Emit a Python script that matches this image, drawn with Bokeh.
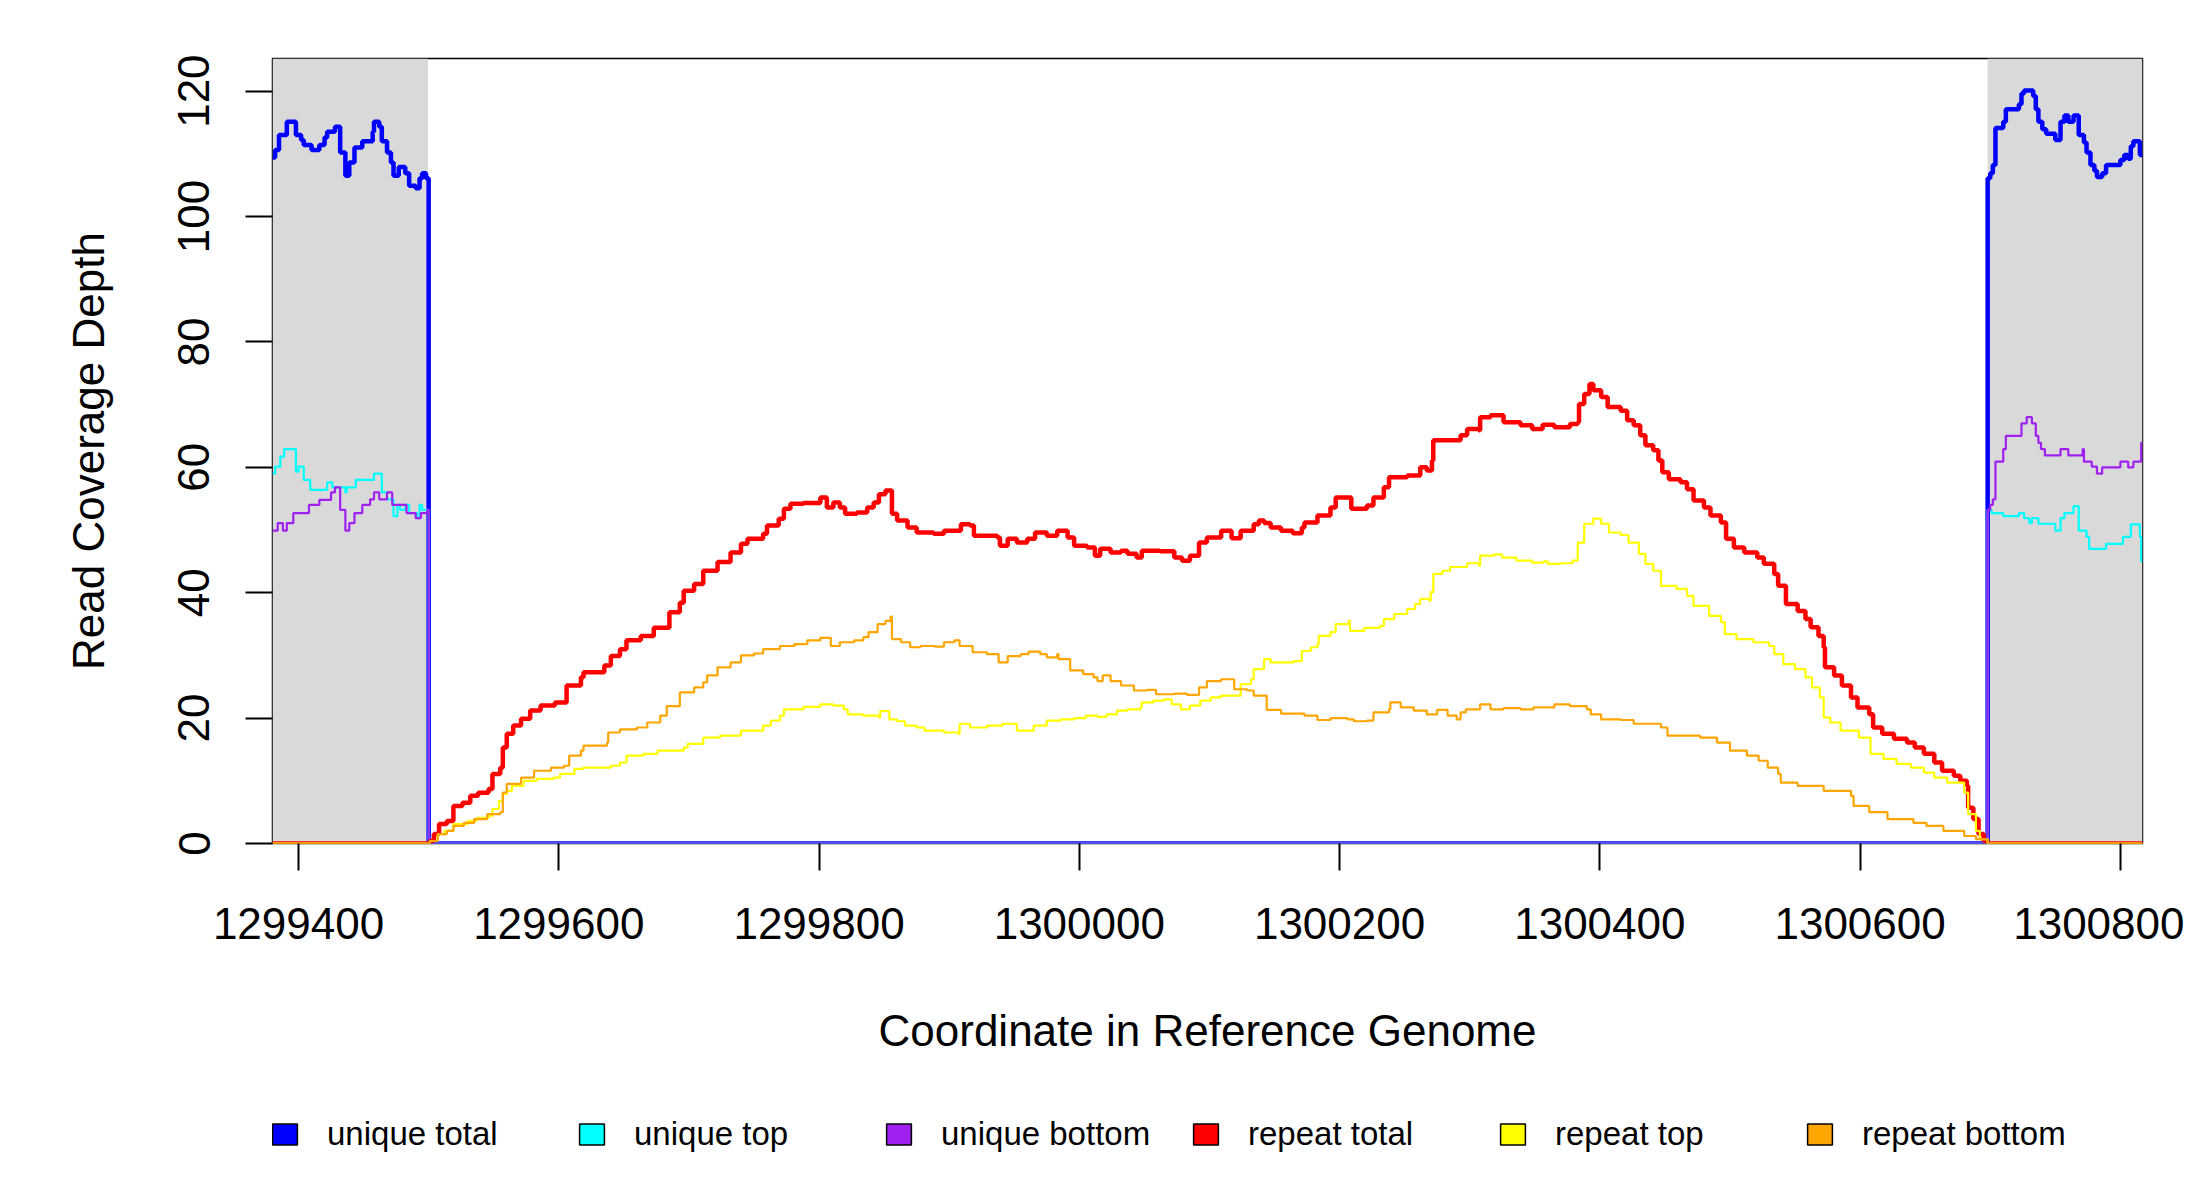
from bokeh.plotting import figure
from bokeh.layouts import column
from bokeh.models import FixedTicker, NumeralTickFormatter, Legend, LegendItem, Range1d
from bokeh.embed import file_html
from bokeh.resources import INLINE

# ---------------- data ----------------
x_ticks = [1299400, 1299600, 1299800, 1300000, 1300200, 1300400, 1300600, 1300800]
y_ticks = [0, 20, 40, 60, 80, 100, 120]
x_limits = [1299380, 1300817]
y_limits = [0, 125.2]

# grey flanking (unique) regions
flank_left = [1299380, 1300698]
flank_right = [1299499.5, 1300817]

series_labels = ["unique total", "unique top", "unique bottom",
                 "repeat total", "repeat top", "repeat bottom"]
series_colors = ["#0000FF", "#00FFFF", "#A020F0", "#FF0000", "#FFFF00", "#FFA500"]

unique_total_x = [1299380, 1299382, 1299385, 1299391, 1299398, 1299402, 1299404, 1299410, 1299416, 1299420,
                  1299422, 1299428, 1299432, 1299436, 1299439, 1299443, 1299449, 1299457, 1299458, 1299462,
                  1299464, 1299468, 1299471, 1299473, 1299477, 1299482, 1299485, 1299490, 1299493, 1299495,
                  1299498, 1299500,
                  1300698, 1300700, 1300702, 1300704, 1300710, 1300712, 1300722, 1300724, 1300726, 1300733,
                  1300735, 1300737, 1300740, 1300743, 1300750, 1300754, 1300757, 1300760, 1300764, 1300768,
                  1300772, 1300774, 1300777, 1300780, 1300782, 1300786, 1300789, 1300800, 1300803, 1300806,
                  1300808, 1300810, 1300815, 1300817]
unique_total_y = [109.4, 110.6, 113.0, 115.1, 113.0, 112.2, 111.4, 110.6, 111.4, 112.6,
                  113.5, 114.3, 110.2, 106.5, 108.6, 111.0, 112.0, 113.5, 115.1, 114.3,
                  112.0, 110.2, 108.6, 106.5, 107.9, 106.9, 104.9, 104.5, 106.1, 106.9,
                  106.1, 0,
                  106.1, 106.9, 108.2, 114.1, 115.1, 117.1, 117.9, 119.6, 120.1, 119.2,
                  117.1, 115.1, 113.9, 113.2, 112.2, 115.1, 116.1, 115.1, 116.1, 113.0,
                  111.8, 110.2, 108.2, 107.3, 106.3, 106.9, 108.2, 109.0, 109.8, 109.2,
                  111.2, 112.0, 109.8, 109.8]

unique_top_x = [1299380, 1299382, 1299386, 1299389, 1299398, 1299400, 1299404, 1299409, 1299422, 1299426,
                1299436, 1299437, 1299444, 1299458, 1299464, 1299468, 1299473, 1299476, 1299478, 1299482,
                1299485, 1299491, 1299493, 1299495, 1299500,
                1300698, 1300701, 1300710, 1300722, 1300726, 1300730, 1300732, 1300737, 1300750, 1300754,
                1300757, 1300764, 1300768, 1300774, 1300776, 1300789, 1300802, 1300808, 1300815, 1300816,
                1300817]
unique_top_y = [59.0, 60.1, 61.7, 62.9, 59.3, 60.1, 58.0, 56.4, 57.6, 56.8,
                56.0, 56.8, 58.0, 59.0, 56.0, 54.9, 52.2, 54.0, 53.2, 54.0,
                52.7, 51.9, 54.0, 53.2, 0,
                53.2, 52.7, 52.2, 52.7, 51.9, 51.1, 51.9, 51.0, 49.9, 51.9,
                52.7, 53.8, 49.9, 48.9, 47.0, 47.8, 48.9, 50.9, 48.9, 45.0,
                45.0]

unique_bottom_x = [1299380, 1299384, 1299388, 1299391, 1299396, 1299408, 1299416, 1299425, 1299428, 1299432,
                   1299436, 1299439, 1299443, 1299449, 1299455, 1299458, 1299462, 1299468, 1299472, 1299483,
                   1299490, 1299494, 1299499, 1299500,
                   1300698, 1300700, 1300702, 1300704, 1300710, 1300712, 1300724, 1300728, 1300732, 1300735,
                   1300737, 1300739, 1300742, 1300754, 1300760, 1300771, 1300772, 1300778, 1300782, 1300786,
                   1300800, 1300806, 1300810, 1300816, 1300817]
unique_bottom_y = [49.9, 51.1, 49.9, 51.1, 52.7, 54.0, 54.8, 56.0, 56.8, 53.2,
                   49.9, 51.1, 52.7, 54.0, 54.9, 56.0, 54.9, 56.0, 54.0, 52.7,
                   51.9, 52.7, 53.2, 0,
                   53.2, 54.0, 54.9, 60.9, 62.9, 65.0, 67.0, 68.0, 67.0, 65.0,
                   63.9, 62.9, 61.9, 62.9, 61.9, 62.9, 60.9, 60.1, 59.0, 60.0,
                   60.9, 60.0, 60.9, 63.9, 63.9]

repeat_total_x = [1299380, 1299500, 1299501, 1299504, 1299508, 1299514, 1299519, 1299526, 1299532, 1299538,
                  1299546, 1299549, 1299555, 1299557, 1299560, 1299565, 1299571, 1299578, 1299586, 1299597,
                  1299606, 1299617, 1299619, 1299635, 1299640, 1299647, 1299652, 1299663, 1299673, 1299685,
                  1299693, 1299696, 1299704, 1299711, 1299722, 1299732, 1299740, 1299745, 1299757, 1299760,
                  1299769, 1299773, 1299778, 1299788, 1299801, 1299806, 1299811, 1299816, 1299820, 1299829,
                  1299837, 1299842, 1299846, 1299851, 1299856, 1299860, 1299868, 1299875, 1299888, 1299896,
                  1299909, 1299916, 1299919, 1299937, 1299939, 1299945, 1299952, 1299960, 1299966, 1299975,
                  1299983, 1299991, 1299996, 1300006, 1300012, 1300016, 1300024, 1300032, 1300037, 1300044,
                  1300048, 1300062, 1300073, 1300079, 1300085, 1300092, 1300098, 1300109, 1300117, 1300124,
                  1300134, 1300138, 1300142, 1300147, 1300155, 1300164, 1300171, 1300173, 1300183, 1300193,
                  1300197, 1300209, 1300221, 1300226, 1300234, 1300238, 1300252, 1300262, 1300267, 1300271,
                  1300272, 1300293, 1300298, 1300307, 1300308, 1300316, 1300326, 1300339, 1300348, 1300356,
                  1300365, 1300377, 1300383, 1300384, 1300388, 1300392, 1300395, 1300401, 1300406, 1300416,
                  1300421, 1300426, 1300431, 1300435, 1300441, 1300445, 1300448, 1300453, 1300462, 1300467,
                  1300472, 1300480, 1300485, 1300493, 1300497, 1300503, 1300511, 1300521, 1300526, 1300534,
                  1300537, 1300543, 1300552, 1300558, 1300562, 1300568, 1300572, 1300573, 1300580, 1300586,
                  1300593, 1300598, 1300607, 1300610, 1300617, 1300626, 1300636, 1300642, 1300649, 1300657,
                  1300663, 1300672, 1300677, 1300682, 1300683, 1300687, 1300691, 1300695, 1300698, 1300817]
repeat_total_y = [0, 0, 0.4, 1.5, 3.1, 3.6, 6.0, 6.5, 7.6, 8.1,
                  8.7, 11.1, 12.1, 15.3, 17.5, 18.8, 19.9, 21.2, 22.0, 22.5,
                  25.2, 26.5, 27.3, 28.4, 29.9, 31.0, 32.4, 33.1, 34.4, 36.9,
                  38.4, 40.3, 41.4, 43.5, 44.9, 46.4, 47.8, 48.6, 49.4, 50.7,
                  51.8, 53.4, 54.2, 54.3, 55.2, 53.6, 54.4, 53.6, 52.6, 52.8,
                  53.6, 54.4, 55.7, 56.3, 52.6, 51.5, 50.4, 49.6, 49.4, 49.9,
                  50.9, 50.7, 49.1, 48.8, 47.5, 48.6, 48.0, 48.6, 49.6, 49.1,
                  49.9, 48.8, 47.5, 47.2, 45.9, 47.0, 46.4, 46.7, 46.2, 45.6,
                  46.7, 46.6, 45.6, 45.1, 45.9, 48.0, 48.8, 49.9, 48.7, 49.9,
                  50.9, 51.5, 51.1, 50.4, 49.9, 49.5, 50.4, 51.2, 52.3, 53.6,
                  55.2, 53.4, 53.9, 55.2, 56.8, 58.4, 58.7, 60.0, 59.5, 61.1,
                  64.3, 65.1, 66.1, 65.9, 68.0, 68.3, 67.2, 66.7, 66.1, 66.8,
                  66.4, 66.9, 67.2, 70.1, 71.7, 73.3, 72.3, 71.2, 69.6, 69.0,
                  67.5, 66.7, 65.1, 63.5, 62.7, 61.1, 59.2, 58.1, 57.6, 56.5,
                  54.7, 53.6, 52.3, 51.2, 48.6, 47.2, 46.4, 45.6, 44.6, 43.0,
                  41.1, 38.2, 37.1, 35.8, 34.5, 33.1, 31.3, 28.1, 26.8, 25.2,
                  23.3, 21.7, 20.6, 18.5, 17.5, 16.7, 16.1, 15.3, 14.3, 12.9,
                  11.6, 10.8, 10.0, 9.2, 5.7, 3.9, 1.5, 0.4, 0, 0]

repeat_top_x = [1299380, 1299500, 1299501, 1299507, 1299512, 1299519, 1299530, 1299537, 1299546, 1299549,
                1299554, 1299557, 1299560, 1299564, 1299573, 1299583, 1299596, 1299601, 1299612, 1299619,
                1299640, 1299647, 1299652, 1299665, 1299676, 1299696, 1299699, 1299711, 1299724, 1299740,
                1299757, 1299763, 1299770, 1299773, 1299788, 1299801, 1299811, 1299819, 1299822, 1299834,
                1299846, 1299847, 1299854, 1299860, 1299866, 1299875, 1299881, 1299896, 1299907, 1299908,
                1299916, 1299929, 1299941, 1299952, 1299965, 1299975, 1299986, 1299996, 1300005, 1300014,
                1300021, 1300029, 1300037, 1300047, 1300048, 1300057, 1300065, 1300071, 1300078, 1300085,
                1300093, 1300101, 1300109, 1300124, 1300132, 1300134, 1300142, 1300147, 1300165, 1300171,
                1300178, 1300183, 1300184, 1300193, 1300197, 1300207, 1300208, 1300219, 1300231, 1300234,
                1300242, 1300252, 1300258, 1300262, 1300269, 1300270, 1300272, 1300279, 1300285, 1300298,
                1300307, 1300308, 1300319, 1300325, 1300336, 1300348, 1300357, 1300360, 1300370, 1300379,
                1300383, 1300388, 1300395, 1300401, 1300407, 1300416, 1300422, 1300430, 1300435, 1300441,
                1300447, 1300459, 1300467, 1300472, 1300484, 1300493, 1300496, 1300505, 1300518, 1300530,
                1300534, 1300541, 1300550, 1300558, 1300563, 1300569, 1300572, 1300577, 1300585, 1300599,
                1300608, 1300618, 1300628, 1300639, 1300649, 1300657, 1300667, 1300680, 1300683, 1300689,
                1300692, 1300698, 1300817]
repeat_top_y = [0, 0, 0.4, 1.5, 2.0, 3.1, 3.6, 4.1, 4.4, 5.5,
                6.8, 7.9, 8.4, 9.2, 10.0, 10.3, 10.5, 11.1, 11.9, 12.1,
                12.4, 12.9, 14.0, 14.3, 14.8, 15.3, 15.9, 16.9, 17.2, 18.0,
                18.8, 19.6, 20.4, 21.4, 21.8, 22.2, 22.0, 21.4, 20.6, 20.4,
                20.1, 21.1, 19.8, 19.5, 18.8, 18.5, 18.0, 17.7, 17.5, 19.1,
                18.5, 18.8, 19.1, 18.0, 18.8, 19.6, 19.8, 20.0, 20.4, 20.2,
                20.6, 21.2, 21.4, 21.7, 22.5, 22.8, 23.0, 22.2, 21.4, 22.0,
                22.8, 23.3, 23.6, 25.4, 26.2, 27.8, 29.4, 28.9, 29.1, 30.7,
                31.3, 31.8, 33.1, 33.7, 35.0, 35.5, 33.9, 34.4, 34.7, 35.8,
                36.6, 37.4, 38.2, 39.0, 38.7, 40.1, 43.0, 43.5, 44.1, 44.7,
                44.3, 45.9, 46.1, 45.6, 45.1, 44.8, 45.0, 44.6, 44.7, 45.1,
                48.0, 51.0, 51.8, 51.0, 49.6, 49.2, 48.0, 46.2, 44.6, 43.5,
                41.1, 40.6, 39.5, 37.9, 36.3, 35.3, 33.4, 32.6, 32.1, 31.5,
                30.2, 28.6, 27.8, 26.5, 24.9, 23.3, 20.1, 19.3, 18.0, 16.9,
                14.3, 13.5, 12.7, 12.1, 11.3, 10.5, 9.7, 8.1, 4.7, 2.0,
                0.7, 0, 0]

repeat_bottom_x = [1299380, 1299500, 1299501, 1299507, 1299514, 1299519, 1299527, 1299535, 1299545, 1299555,
                   1299557, 1299560, 1299571, 1299581, 1299594, 1299604, 1299608, 1299617, 1299619, 1299637,
                   1299638, 1299647, 1299660, 1299668, 1299678, 1299683, 1299693, 1299704, 1299711, 1299714,
                   1299722, 1299732, 1299740, 1299750, 1299757, 1299770, 1299781, 1299791, 1299801, 1299809,
                   1299816, 1299827, 1299834, 1299838, 1299845, 1299851, 1299855, 1299856, 1299863, 1299870,
                   1299878, 1299889, 1299896, 1299904, 1299908, 1299918, 1299929, 1299938, 1299945, 1299955,
                   1299961, 1299970, 1299975, 1299983, 1299984, 1299993, 1300003, 1300011, 1300014, 1300018,
                   1300024, 1300032, 1300042, 1300052, 1300059, 1300073, 1300083, 1300092, 1300098, 1300109,
                   1300119, 1300129, 1300134, 1300144, 1300155, 1300173, 1300183, 1300193, 1300206, 1300211,
                   1300221, 1300226, 1300238, 1300239, 1300247, 1300257, 1300267, 1300275, 1300283, 1300290,
                   1300293, 1300297, 1300308, 1300316, 1300326, 1300339, 1300349, 1300365, 1300377, 1300390,
                   1300393, 1300401, 1300416, 1300426, 1300447, 1300452, 1300477, 1300490, 1300500, 1300513,
                   1300522, 1300529, 1300537, 1300539, 1300552, 1300572, 1300593, 1300595, 1300607, 1300621,
                   1300641, 1300651, 1300664, 1300680, 1300689, 1300698, 1300817]
repeat_bottom_y = [0, 0, 0.4, 1.5, 2.0, 2.8, 3.3, 3.9, 4.7, 5.0,
                   8.1, 9.5, 10.5, 11.6, 12.1, 12.4, 14.0, 14.8, 15.6, 16.1,
                   17.7, 18.2, 18.5, 19.3, 20.4, 21.9, 24.1, 24.9, 25.7, 26.8,
                   28.1, 28.9, 30.0, 30.3, 31.0, 31.5, 31.8, 32.4, 32.8, 31.5,
                   32.1, 32.4, 32.9, 33.7, 35.0, 35.5, 36.2, 32.6, 32.1, 31.3,
                   31.5, 31.4, 32.1, 32.4, 31.5, 30.5, 30.2, 28.9, 29.9, 30.2,
                   30.6, 30.2, 29.7, 30.2, 29.4, 27.6, 27.0, 26.5, 25.9, 26.8,
                   25.9, 25.2, 24.4, 24.5, 23.8, 23.9, 23.7, 24.9, 25.9, 26.2,
                   24.6, 24.4, 23.6, 21.3, 20.7, 20.4, 19.7, 20.0, 19.8, 19.5,
                   19.6, 20.9, 21.4, 22.5, 21.7, 21.2, 20.6, 21.3, 20.4, 19.8,
                   20.9, 21.4, 22.2, 21.4, 21.6, 21.4, 21.7, 22.2, 21.9, 21.4,
                   20.6, 19.8, 19.7, 19.1, 18.5, 17.2, 16.9, 16.1, 14.8, 14.0,
                   13.2, 12.1, 11.1, 9.7, 9.2, 8.4, 7.6, 6.0, 5.0, 3.9,
                   3.3, 2.8, 2.0, 1.2, 0.7, 0, 0]

series_x = [unique_total_x, unique_top_x, unique_bottom_x, repeat_total_x, repeat_top_x, repeat_bottom_x]
series_y = [unique_total_y, unique_top_y, unique_bottom_y, repeat_total_y, repeat_top_y, repeat_bottom_y]
series_widths = [4.5, 2.2, 2.2, 4.5, 2.2, 2.2]

# ---------------- main figure ----------------
FONT = "Liberation Sans"
W = 2184
H_MAIN = 1090
H_LEG = 94

p = figure(width=W, height=H_MAIN, output_backend="svg", toolbar_location=None,
           x_range=Range1d(*x_limits), y_range=Range1d(*y_limits),
           min_border_left=272, min_border_right=42, min_border_top=58, min_border_bottom=H_MAIN - 58 - 785,
           x_axis_label="Coordinate in Reference Genome", y_axis_label="Read Coverage Depth")
p.xgrid.visible = False
p.ygrid.visible = False
p.background_fill_color = "white"
p.border_fill_color = "white"
p.outline_line_color = "black"
p.outline_line_width = 1.5
p.outline_line_alpha = 1.0

p.quad(left=flank_left, right=flank_right, bottom=[y_limits[0]] * 2, top=[y_limits[1]] * 2,
       fill_color="#D9D9D9", line_color=None)

for xs, ys, c, w in zip(series_x, series_y, series_colors, series_widths):
    p.step(xs, ys, mode="after", line_color=c, line_width=w)

for ax in (p.xaxis[0], p.yaxis[0]):
    ax.axis_line_color = None
    ax.major_tick_in = 0
    ax.major_tick_out = 27
    ax.major_tick_line_width = 2
    ax.major_tick_line_color = "black"
    ax.minor_tick_line_color = None
    ax.major_label_text_font = FONT
    ax.major_label_text_font_size = "44px"
    ax.major_label_text_color = "black"
    ax.axis_label_text_font = FONT
    ax.axis_label_text_font_size = "44px"
    ax.axis_label_text_font_style = "normal"
    ax.axis_label_text_color = "black"

p.xaxis[0].ticker = FixedTicker(ticks=x_ticks)
p.xaxis[0].formatter = NumeralTickFormatter(format="0")
p.xaxis[0].major_label_standoff = 37
p.xaxis[0].axis_label_standoff = 64

p.yaxis[0].ticker = FixedTicker(ticks=y_ticks)
p.yaxis[0].major_label_orientation = "parallel"
p.yaxis[0].major_label_standoff = 36
p.yaxis[0].axis_label_standoff = 63

# ---------------- legend strip ----------------
lg = figure(width=W, height=H_LEG, output_backend="svg", toolbar_location=None,
            x_axis_type=None, y_axis_type=None, x_range=Range1d(0, 1), y_range=Range1d(0, 1),
            min_border_left=0, min_border_right=0, min_border_top=0, min_border_bottom=0)
lg.xgrid.visible = False
lg.ygrid.visible = False
lg.outline_line_color = None
lg.background_fill_color = "white"
lg.border_fill_color = "white"

items = []
for name, c in zip(series_labels, series_colors):
    # swatch-only renderer placed outside the strip's visible range
    r = lg.quad(left=[5], right=[6], top=[6], bottom=[5], fill_color=c, line_color="black", line_width=1.5)
    items.append(LegendItem(label=name, renderers=[r]))

legend = Legend(items=items, orientation="horizontal", location=(-3, 31),
                glyph_width=31, glyph_height=26, label_standoff=27, label_width=220, spacing=29,
                padding=0, margin=0, border_line_color=None, background_fill_alpha=0,
                label_text_font=FONT, label_text_font_size="33px", label_text_color="black")
lg.add_layout(legend)

layout = column(p, lg, spacing=0)
open("out.html", "w").write(file_html(layout, INLINE))
